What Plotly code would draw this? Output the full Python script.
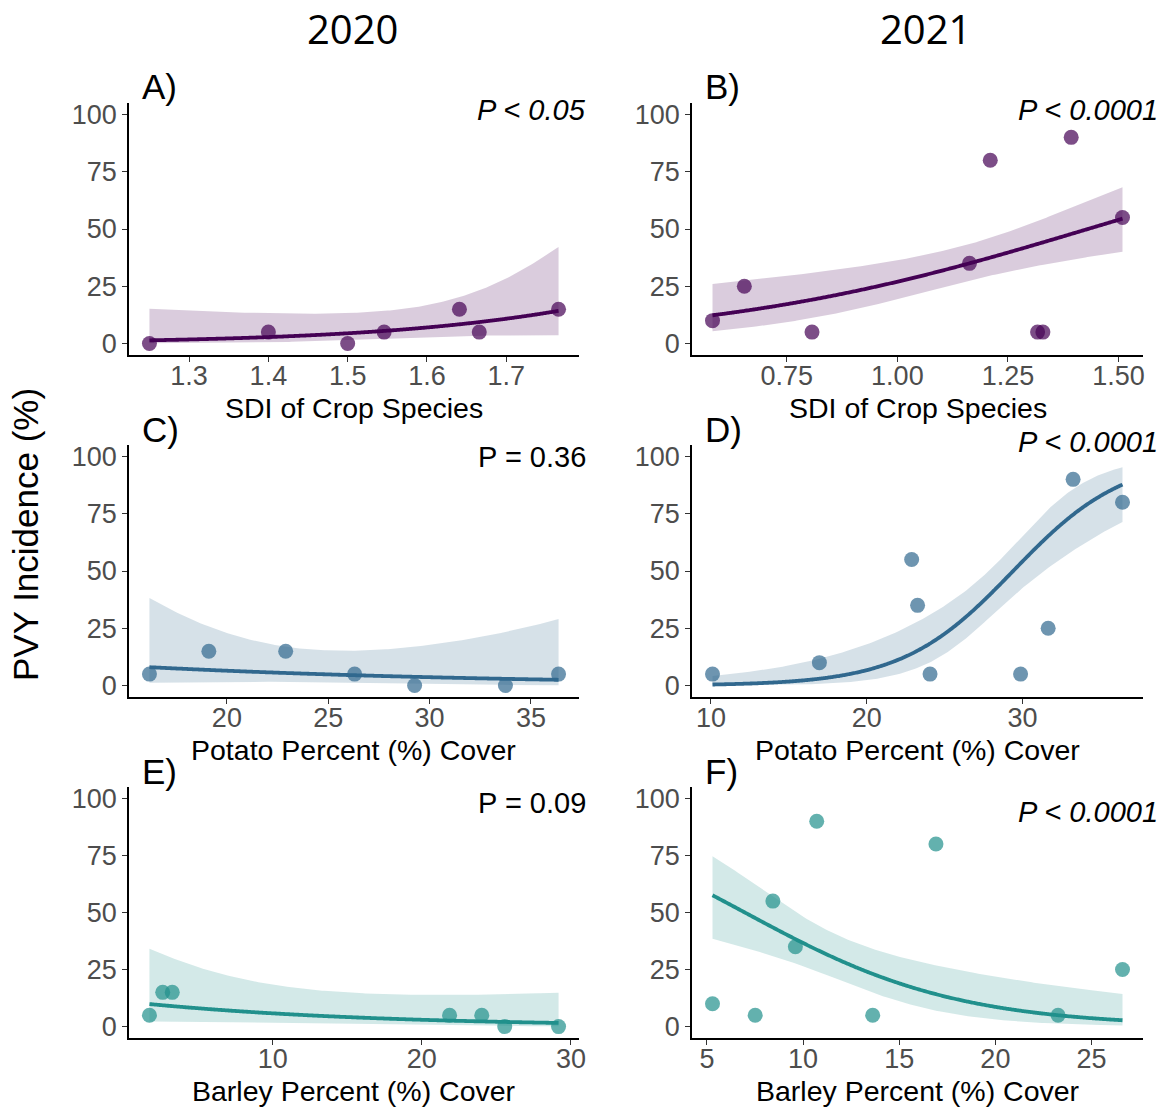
import numpy as np
import plotly.graph_objects as go

W, H = 1162, 1114

# ---- observed PVY incidence (%) per field ----
sdi_2020 = [1.25, 1.40, 1.50, 1.546, 1.641, 1.666, 1.766]
pvy_sdi_2020 = [0, 5, 0, 5, 15, 5, 15]

sdi_2021 = [0.582, 0.654, 0.807, 1.163, 1.210, 1.317, 1.329, 1.393, 1.509]
pvy_sdi_2021 = [10, 25, 5, 35, 80, 5, 5, 90, 55]

potato_2020 = [16.18, 19.11, 22.90, 26.30, 29.26, 33.74, 36.36]
pvy_potato_2020 = [5, 15, 15, 5, 0, 0, 5]

potato_2021 = [10.10, 16.96, 22.88, 23.26, 24.06, 29.87, 31.64, 33.24, 36.41]
pvy_potato_2021 = [5, 10, 55, 35, 5, 5, 25, 90, 80]

barley_2020 = [1.73, 2.62, 3.26, 21.86, 24.02, 25.56, 29.17]
pvy_barley_2020 = [5, 15, 15, 5, 5, 0, 0]

barley_2021 = [5.29, 7.51, 8.43, 9.60, 10.71, 13.62, 16.91, 23.26, 26.61]
pvy_barley_2021 = [10, 5, 55, 35, 90, 5, 80, 5, 25]

# ---- binomial GLM (logit link) fits: intercept, slope, and SE of the
#      linear predictor, se(x) = sqrt(se_min^2 + se_slope^2 (x - x_c)^2) ----
glm_intercept = [-10.20, -3.305, -1.461, -8.23, -2.09, 1.262]
glm_slope = [4.76, 2.31, -0.0605, 0.28, -0.0696, -0.181]
se_min = [0.50, 0.18, 0.635, 0.22, 0.66, 0.235]
se_slope = [3.4, 0.72, 0.1007, 0.0616, 0.053, 0.0557]
se_center = [1.60, 1.18, 23.85, 28.5, 10.0, 11.0]

panel_letters = ["A)", "B)", "C)", "D)", "E)", "F)"]
p_labels = ["<i>P < 0.05</i>", "<i>P < 0.0001</i>", "P = 0.36",
            "<i>P < 0.0001</i>", "P = 0.09", "<i>P < 0.0001</i>"]
x_titles = ["SDI of Crop Species", "SDI of Crop Species",
            "Potato Percent (%) Cover", "Potato Percent (%) Cover",
            "Barley Percent (%) Cover", "Barley Percent (%) Cover"]
x_tickvals = [[1.3, 1.4, 1.5, 1.6, 1.7], [0.75, 1.00, 1.25, 1.50],
              [20, 25, 30, 35], [10, 20, 30], [10, 20, 30], [5, 10, 15, 20, 25]]
x_ticktext = [["1.3", "1.4", "1.5", "1.6", "1.7"], ["0.75", "1.00", "1.25", "1.50"],
              ["20", "25", "30", "35"], ["10", "20", "30"], ["10", "20", "30"],
              ["5", "10", "15", "20", "25"]]
y_tickvals = [0, 25, 50, 75, 100]
col_titles = ["2020", "2021"]

xs = [sdi_2020, sdi_2021, potato_2020, potato_2021, barley_2020, barley_2021]
ys = [pvy_sdi_2020, pvy_sdi_2021, pvy_potato_2020, pvy_potato_2021,
      pvy_barley_2020, pvy_barley_2021]

line_colors = ["#440154", "#440154", "#31688E", "#31688E", "#21908C", "#21908C"]
band_colors = ["rgba(68,1,84,0.2)", "rgba(68,1,84,0.2)",
               "rgba(49,104,142,0.2)", "rgba(49,104,142,0.2)",
               "rgba(33,144,140,0.2)", "rgba(33,144,140,0.2)"]
point_colors = ["rgba(68,1,84,0.7)", "rgba(68,1,84,0.7)",
                "rgba(49,104,142,0.7)", "rgba(49,104,142,0.7)",
                "rgba(33,144,140,0.7)", "rgba(33,144,140,0.7)"]

# panel geometry in pixels (left, right, top, bottom of plotting area)
col_px = [(129, 579), (692, 1143)]
row_px = [(103, 355), (445, 697), (787, 1038)]

SANS = "Liberation Sans, Arial, Helvetica, sans-serif"


def inv_logit(e):
    return 1.0 / (1.0 + np.exp(-e))


def px_x(p):
    return p / W


def px_y(p):
    return 1 - p / H


fig = go.Figure()
layout = dict(
    width=W, height=H, autosize=False,
    margin=dict(l=0, r=0, t=0, b=0, pad=0),
    paper_bgcolor="white", plot_bgcolor="white",
    showlegend=False,
)
annotations = []

for i in range(6):
    r, c = divmod(i, 2)
    k = "" if i == 0 else str(i + 1)
    xa, ya = "x" + k, "y" + k

    x = np.asarray(xs[i], dtype=float)
    y = np.asarray(ys[i], dtype=float)
    lo, hi = x.min(), x.max()
    pad = 0.05 * (hi - lo)

    # fitted curve and 95% confidence band
    grid = np.linspace(lo, hi, 200)
    eta = glm_intercept[i] + glm_slope[i] * grid
    se = np.sqrt(se_min[i] ** 2 + se_slope[i] ** 2 * (grid - se_center[i]) ** 2)
    fit = 100 * inv_logit(eta)
    lower = 100 * inv_logit(eta - 1.96 * se)
    upper = 100 * inv_logit(eta + 1.96 * se)

    fig.add_trace(go.Scatter(x=grid, y=lower, mode="lines", line=dict(width=0),
                             hoverinfo="skip", xaxis=xa, yaxis=ya))
    fig.add_trace(go.Scatter(x=grid, y=upper, mode="lines", line=dict(width=0),
                             fill="tonexty", fillcolor=band_colors[i],
                             hoverinfo="skip", xaxis=xa, yaxis=ya))
    fig.add_trace(go.Scatter(x=grid, y=fit, mode="lines",
                             line=dict(color=line_colors[i], width=3.8,
                                       shape="spline"),
                             xaxis=xa, yaxis=ya))
    fig.add_trace(go.Scatter(x=x, y=y, mode="markers",
                             marker=dict(size=15, color=point_colors[i],
                                         line=dict(width=0)),
                             xaxis=xa, yaxis=ya))

    x0, x1 = col_px[c]
    t0, b0 = row_px[r]
    axis_common = dict(
        showline=True, linecolor="black", linewidth=1.6, mirror=False,
        ticks="outside", ticklen=5, tickwidth=1.3, tickcolor="#333333",
        tickfont=dict(family=SANS, size=27, color="#4D4D4D"),
        showgrid=False, zeroline=False, fixedrange=True, automargin=False,
    )
    layout["xaxis" + k] = dict(
        axis_common, domain=[px_x(x0), px_x(x1)], anchor=ya,
        range=[lo - pad, hi + pad], ticklabelstandoff=-9,
        tickmode="array", tickvals=x_tickvals[i], ticktext=x_ticktext[i],
    )
    layout["yaxis" + k] = dict(
        axis_common, domain=[px_y(b0), px_y(t0)], anchor=xa,
        range=[-5, 105], tickmode="array", tickvals=y_tickvals,
    )

    # panel letter
    annotations.append(dict(
        text=panel_letters[i], xref="paper", yref="paper",
        x=px_x(x0 + 11), y=px_y(t0 - 16), xanchor="left", yanchor="middle",
        showarrow=False, font=dict(family=SANS, size=35, color="black")))
    # significance label
    p_right = 588 if c == 0 else 1160
    p_y = [110, 110, 457, 442, 803, 812][i]
    annotations.append(dict(
        text=p_labels[i], xref="paper", yref="paper",
        x=px_x(p_right), y=px_y(p_y), xanchor="right", yanchor="middle",
        showarrow=False, font=dict(family=SANS, size=29, color="black")))
    # x axis title
    annotations.append(dict(
        text=x_titles[i], xref="paper", yref="paper",
        x=px_x((x0 + x1) / 2), y=px_y(b0 + 53), xanchor="center", yanchor="middle",
        showarrow=False, font=dict(family=SANS, size=28.5, color="black")))

# column titles
for c, t in enumerate(col_titles):
    annotations.append(dict(
        text=t, xref="paper", yref="paper",
        x=px_x([352, 925][c]), y=px_y(29), xanchor="center", yanchor="middle",
        showarrow=False, font=dict(family="Open Sans, Noto Sans, sans-serif",
                                   size=40, color="black")))

# shared y axis title
annotations.append(dict(
    text="PVY Incidence (%)", xref="paper", yref="paper",
    x=px_x(25), y=px_y(535), xanchor="center", yanchor="middle", textangle=-90,
    showarrow=False, font=dict(family=SANS, size=35, color="black")))

layout["annotations"] = annotations
fig.update_layout(**layout)
fig.write_html("out.html")
